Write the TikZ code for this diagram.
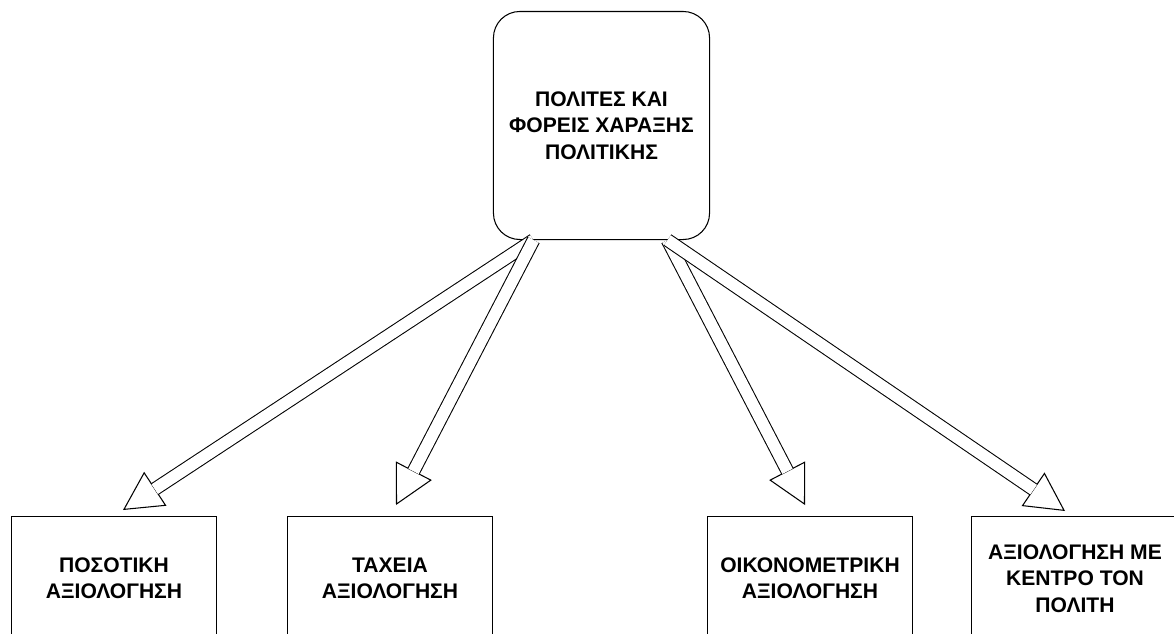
\documentclass[tikz,border=0pt]{standalone}
\usepackage{fontspec}
\setmainfont{Liberation Sans}
\usetikzlibrary{arrows.meta}
\usetikzlibrary{positioning}
\usetikzlibrary{calc}

\begin{document}
\begin{tikzpicture}[line cap=butt,line join=miter,x=0.02cm,y=-0.02cm,
  every node/.style={font=\bfseries\fontsize{12}{15.1}\selectfont,align=center},
  topbox/.style={draw,line width=0.6pt,rounded corners=15pt,minimum width=123pt,minimum height=129.8pt},
  evalbox/.style={draw,line width=0.6pt,anchor=north,minimum width=116.2pt,minimum height=70.3pt},
  hollow/.style={line width=0.6pt,double=white,double distance=6.6pt,shorten >=21.6pt},
  hollowhead/.style={line width=0.6pt,-{Triangle[length=22pt,width=23pt,fill=white]}}]
\useasboundingbox (0,0) rectangle (1174,633);
\clip (0,0) rectangle (1174,633);
% top box
\node[topbox] (top) at (601.5,125.5) {ΠΟΛΙΤΕΣ ΚΑΙ\\ΦΟΡΕΙΣ ΧΑΡΑΞΗΣ\\ΠΟΛΙΤΙΚΗΣ};
% bottom boxes (cut by the lower margin)
\node[evalbox] (eval1) at (114,516) {ΠΟΣΟΤΙΚΗ\\ΑΞΙΟΛΟΓΗΣΗ};
\node[evalbox] (eval2) at (390,516) {ΤΑΧΕΙΑ\\ΑΞΙΟΛΟΓΗΣΗ};
\node[evalbox] (eval3) at (810,516) {ΟΙΚΟΝΟΜΕΤΡΙΚΗ\\ΑΞΙΟΛΟΓΗΣΗ};
\node[evalbox,minimum width=117.4pt] (eval4) at (1075,516) {ΑΞΙΟΛΟΓΗΣΗ ΜΕ\\ΚΕΝΤΡΟ ΤΟΝ\\ΠΟΛΙΤΗ};
% arrows
\coordinate (sl) at ($(top.south)+(-68,0)$);
\coordinate (sr) at ($(top.south)+(66,0)$);
\coordinate (e1) at ($(eval1.north)+(9,-6)$);
\coordinate (e2) at ($(eval2.north)+(6,-11)$);
\coordinate (e3) at ($(eval3.north)+(-5,-11)$);
\coordinate (e4) at ($(eval4.north)+(-10,-5)$);
\draw [hollowhead] ($(e1)!22pt!(sl)$) -- (e1);
\draw [hollowhead] ($(e2)!22pt!(sl)$) -- (e2);
\draw [hollowhead] ($(e3)!22pt!(sr)$) -- (e3);
\draw [hollowhead] ($(e4)!22pt!(sr)$) -- (e4);
\draw [hollow] (sl) -- (e1);
\draw [hollow] (sl) -- (e2);
\draw [hollow] (sr) -- (e3);
\draw [hollow] (sr) -- (e4);
\end{tikzpicture}
\end{document}
